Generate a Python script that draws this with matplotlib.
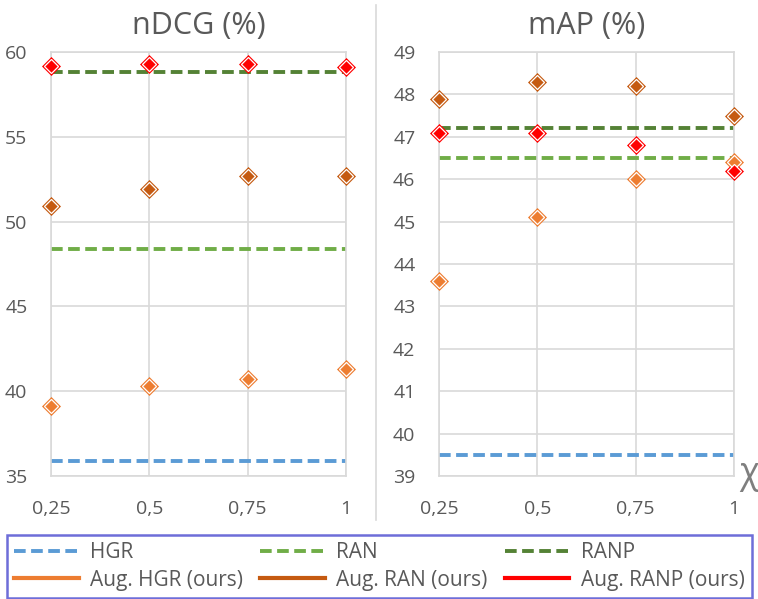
import matplotlib.pyplot as plt
import matplotlib.lines as mlines

plt.rcParams['font.family'] = ['Open Sans', 'DejaVu Sans']

chi_values = [0.25, 0.5, 0.75, 1]
chi_labels = ['0,25', '0,5', '0,75', '1']

# baselines (constant over chi)
ndcg_hgr = 35.9
ndcg_ran = 48.4
ndcg_ranp = 58.8
map_hgr = 39.5
map_ran = 46.5
map_ranp = 47.2

# augmented models
ndcg_aug_hgr = [39.1, 40.3, 40.7, 41.3]
ndcg_aug_ran = [50.9, 51.9, 52.7, 52.7]
ndcg_aug_ranp = [59.2, 59.3, 59.3, 59.1]
map_aug_hgr = [43.6, 45.1, 46.0, 46.4]
map_aug_ran = [47.9, 48.3, 48.2, 47.5]
map_aug_ranp = [47.1, 47.1, 46.8, 46.2]

c_hgr = '#5B9BD5'
c_ran = '#70AD47'
c_ranp = '#548235'
c_aug_hgr = '#ED7D31'
c_aug_ran = '#C55A11'
c_aug_ranp = '#FF0000'
grid_c = '#D9D9D9'
text_c = '#595959'
dash = (3.0, 1.4)

fig = plt.figure(figsize=(7.58, 5.99), dpi=100)
ax1 = fig.add_axes([51 / 758, 1 - 476 / 599, 295 / 758, 424 / 599])
ax2 = fig.add_axes([439 / 758, 1 - 476 / 599, 295 / 758, 424 / 599])


def baseline(ax, y, color):
    ax.plot([chi_values[0], chi_values[-1]], [y, y], color=color, lw=2.8,
            dashes=dash, zorder=2)


def points(ax, ys, color):
    # outer diamond, then a smaller one with a white rim on top
    ax.plot(chi_values, ys, ls='none', marker='D', ms=9.2, color=color,
            mec=color, mew=0.5, zorder=3, clip_on=False)
    ax.plot(chi_values, ys, ls='none', marker='D', ms=6.8, color=color,
            mec='white', mew=0.9, zorder=4, clip_on=False)


def style(ax, title, lo, hi, step):
    ax.set_xlim(0.25, 1)
    ax.set_ylim(lo, hi)
    ax.set_xticks(chi_values)
    ax.set_xticklabels(chi_labels)
    ax.set_yticks(range(lo, hi + 1, step))
    ax.grid(True, color=grid_c, lw=1.2)
    ax.set_axisbelow(True)
    for s in ax.spines.values():
        s.set_color(grid_c)
        s.set_linewidth(1.2)
    ax.tick_params(axis='both', length=0, labelsize=14, colors=text_c)
    ax.tick_params(axis='y', pad=17)
    ax.tick_params(axis='x', pad=17)
    ax.set_title(title, fontsize=22, color=text_c, pad=13)


baseline(ax1, ndcg_hgr, c_hgr)
baseline(ax1, ndcg_ran, c_ran)
baseline(ax1, ndcg_ranp, c_ranp)
points(ax1, ndcg_aug_hgr, c_aug_hgr)
points(ax1, ndcg_aug_ran, c_aug_ran)
points(ax1, ndcg_aug_ranp, c_aug_ranp)
style(ax1, 'nDCG (%)', 35, 60, 5)

baseline(ax2, map_hgr, c_hgr)
baseline(ax2, map_ran, c_ran)
baseline(ax2, map_ranp, c_ranp)
points(ax2, map_aug_hgr, c_aug_hgr)
points(ax2, map_aug_ran, c_aug_ran)
points(ax2, map_aug_ranp, c_aug_ranp)
style(ax2, 'mAP (%)', 39, 49, 1)

# separator between panels
fig.add_artist(mlines.Line2D([376 / 758, 376 / 758], [1 - 5 / 599, 1 - 520 / 599],
                             color=grid_c, lw=1.2))
fig.text(749 / 758, 1 - 474 / 599, 'χ', fontsize=26, color='#7F7F7F',
         ha='center', va='center')

handles = [
    mlines.Line2D([], [], color=c_hgr, lw=2.8, dashes=dash),
    mlines.Line2D([], [], color=c_aug_hgr, lw=3),
    mlines.Line2D([], [], color=c_ran, lw=2.8, dashes=dash),
    mlines.Line2D([], [], color=c_aug_ran, lw=3),
    mlines.Line2D([], [], color=c_ranp, lw=2.8, dashes=dash),
    mlines.Line2D([], [], color=c_aug_ranp, lw=3),
]
labels = ['HGR', 'Aug. HGR (ours)', 'RAN', 'Aug. RAN (ours)', 'RANP',
          'Aug. RANP (ours)']
leg = fig.legend(handles, labels, ncol=3, loc='lower left', mode='expand',
                 bbox_to_anchor=(7 / 758, 1 - 598 / 599, 745 / 758, 64 / 599),
                 fontsize=15, frameon=True, fancybox=False, handlelength=3.1,
                 handletextpad=0.55, labelspacing=0.3, borderpad=0.35,
                 borderaxespad=0, columnspacing=0.5)
for t in leg.get_texts():
    t.set_color(text_c)
leg.get_frame().set_edgecolor('#4A4ACF')
leg.get_frame().set_linewidth(1.8)

fig.savefig('out.png', dpi=100)
